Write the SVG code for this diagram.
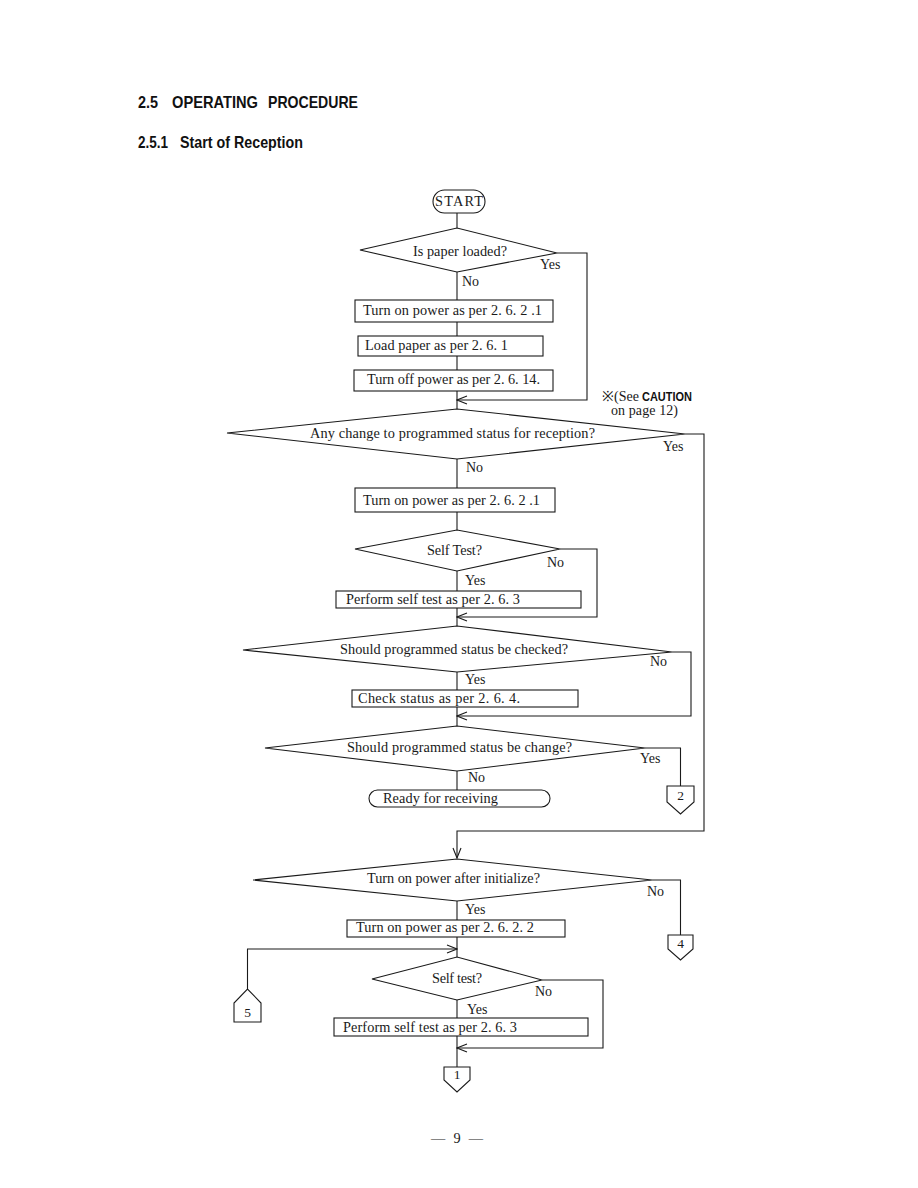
<svg xmlns="http://www.w3.org/2000/svg" width="918" height="1188" viewBox="0 0 918 1188">
<style>
.ln{fill:none;stroke:#1a1a1a;stroke-width:1.1}
.sh{fill:#fff;stroke:#1a1a1a;stroke-width:1.1}
.t{font-family:"Liberation Serif","Times New Roman",serif;font-size:14.3px;fill:#1a1a1a}
.s{font-family:"Liberation Serif","Times New Roman",serif;font-size:14px;fill:#1a1a1a}
.c{font-family:"Liberation Serif","Times New Roman",serif;font-size:13.5px;fill:#1a1a1a;text-anchor:middle}
.h{font-family:"Liberation Sans",Arial,sans-serif;font-weight:bold;font-size:16.5px;fill:#111}
.cb{font-family:"Liberation Sans",Arial,sans-serif;font-weight:bold;font-size:12px;fill:#111}
</style>
<defs>
<marker id="ah" viewBox="-11 -5 12 10" refX="0" refY="0" markerWidth="12" markerHeight="10" markerUnits="userSpaceOnUse" orient="auto">
<path d="M-10,-4 L0,0 L-10,4" fill="none" stroke="#1a1a1a" stroke-width="1.1"/>
</marker>
</defs>
<rect width="918" height="1188" fill="#fff"/>

<g id="headings">
<text class="h" x="138" y="108" textLength="20" lengthAdjust="spacingAndGlyphs">2.5</text>
<text class="h" x="172" y="108" textLength="86" lengthAdjust="spacingAndGlyphs">OPERATING</text>
<text class="h" x="268" y="108" textLength="90" lengthAdjust="spacingAndGlyphs">PROCEDURE</text>
<text class="h" x="138" y="148" textLength="30" lengthAdjust="spacingAndGlyphs">2.5.1</text>
<text class="h" x="180" y="148" textLength="123" lengthAdjust="spacingAndGlyphs">Start of Reception</text>
</g>

<g id="connectors">
<path class="ln" d="M457,213 V228"/>
<path class="ln" d="M457,272 V300"/>
<path class="ln" d="M457,322 V336"/>
<path class="ln" d="M457,356 V370"/>
<path class="ln" d="M457,391 V409"/>
<path class="ln" d="M557,253 H587 V400 H457" marker-end="url(#ah)"/>
<path class="ln" d="M457,459 V488"/>
<path class="ln" d="M457,512 V530"/>
<path class="ln" d="M457,571 V591"/>
<path class="ln" d="M457,608 V626"/>
<path class="ln" d="M560,549 H597 V617 H457" marker-end="url(#ah)"/>
<path class="ln" d="M457,672 V690"/>
<path class="ln" d="M457,707 V726"/>
<path class="ln" d="M672,652 H691 V716 H457" marker-end="url(#ah)"/>
<path class="ln" d="M457,771 V790"/>
<path class="ln" d="M645,748 H680.5 V786"/>
<path class="ln" d="M685,434 H704 V831 H457 V858" marker-end="url(#ah)"/>
<path class="ln" d="M457,901 V920"/>
<path class="ln" d="M457,937 V957"/>
<path class="ln" d="M652,880 H680.5 V935"/>
<path class="ln" d="M247.5,989 V949 H457" marker-end="url(#ah)"/>
<path class="ln" d="M457,1000 V1018"/>
<path class="ln" d="M457,1036 V1067"/>
<path class="ln" d="M542,980 H603 V1048 H457" marker-end="url(#ah)"/>
</g>

<g id="start">
<rect class="sh" x="433" y="190" width="52" height="23" rx="11.5"/>
<text class="t" x="459" y="206" text-anchor="middle" textLength="48" lengthAdjust="spacing">START</text>
</g>

<g id="d-paper">
<polygon class="sh" points="360,250 457,228 557,253 457,272"/>
<text class="t" x="413" y="256" textLength="94" lengthAdjust="spacing">Is paper loaded?</text>
<text class="s" x="540" y="269">Yes</text>
<text class="s" x="462" y="286">No</text>
</g>

<g id="b-power1">
<rect class="sh" x="355" y="300" width="198" height="22"/>
<text class="t" x="363" y="315" textLength="179" lengthAdjust="spacing">Turn on power as per 2. 6. 2 .1</text>
</g>

<g id="b-load">
<rect class="sh" x="358" y="336" width="185" height="20"/>
<text class="t" x="365" y="350" textLength="143" lengthAdjust="spacing">Load paper as per 2. 6. 1</text>
</g>

<g id="b-off">
<rect class="sh" x="354" y="370" width="199" height="21"/>
<text class="t" x="367" y="384" textLength="173" lengthAdjust="spacing">Turn off power as per 2. 6. 14.</text>
</g>

<g id="note">
<text class="s" x="602" y="401" font-size="13.5">※(See</text>
<text class="cb" x="642" y="401" textLength="50" lengthAdjust="spacingAndGlyphs">CAUTION</text>
<text class="s" x="611" y="415" font-size="13.5" textLength="67" lengthAdjust="spacing">on page 12)</text>
</g>

<g id="d-change">
<polygon class="sh" points="227,433 457,409 685,434 457,459"/>
<text class="t" x="310" y="438" textLength="285" lengthAdjust="spacing">Any change to programmed status for reception?</text>
<text class="s" x="663" y="451">Yes</text>
<text class="s" x="466" y="472">No</text>
</g>

<g id="b-power2">
<rect class="sh" x="355" y="488" width="200" height="24"/>
<text class="t" x="363" y="505" textLength="177" lengthAdjust="spacing">Turn on power as per 2. 6. 2 .1</text>
</g>

<g id="d-selftest1">
<polygon class="sh" points="355,549 457,530 560,549 457,571"/>
<text class="t" x="427" y="555" textLength="55" lengthAdjust="spacing">Self Test?</text>
<text class="s" x="547" y="567">No</text>
<text class="s" x="465" y="585">Yes</text>
</g>

<g id="b-selftest1">
<rect class="sh" x="336" y="591" width="245" height="17"/>
<text class="t" x="346" y="604" textLength="174" lengthAdjust="spacing">Perform self test as per 2. 6. 3</text>
</g>

<g id="d-checked">
<polygon class="sh" points="243,650 457,626 672,652 457,672"/>
<text class="t" x="340" y="654" textLength="228" lengthAdjust="spacing">Should programmed status be checked?</text>
<text class="s" x="650" y="666">No</text>
<text class="s" x="465" y="684">Yes</text>
</g>

<g id="b-check">
<rect class="sh" x="352" y="690" width="226" height="17"/>
<text class="t" x="358" y="703" textLength="162" lengthAdjust="spacing">Check status as per 2. 6. 4.</text>
</g>

<g id="d-changed">
<polygon class="sh" points="265,748 457,726 645,748 457,771"/>
<text class="t" x="347" y="752" textLength="225" lengthAdjust="spacing">Should programmed status be change?</text>
<text class="s" x="640" y="763">Yes</text>
<text class="s" x="468" y="782">No</text>
</g>

<g id="ready">
<rect class="sh" x="369" y="790" width="181" height="17" rx="8.5"/>
<text class="t" x="383" y="803" textLength="115" lengthAdjust="spacing">Ready for receiving</text>
</g>

<g id="conn-2">
<path class="sh" d="M667,786 H694 V802 L680.5,814 L667,802 Z"/>
<text class="c" x="680.5" y="800">2</text>
</g>

<g id="d-init">
<polygon class="sh" points="253,880 457,859 652,880 457,901"/>
<text class="t" x="367" y="883" textLength="173" lengthAdjust="spacing">Turn on power after initialize?</text>
<text class="s" x="647" y="896">No</text>
<text class="s" x="465" y="914">Yes</text>
</g>

<g id="b-power3">
<rect class="sh" x="347" y="920" width="218" height="17"/>
<text class="t" x="356" y="932" textLength="178" lengthAdjust="spacing">Turn on power as per 2. 6. 2. 2</text>
</g>

<g id="conn-4">
<path class="sh" d="M668,935 H693 V949 L680.5,960 L668,949 Z"/>
<text class="c" x="680.5" y="948">4</text>
</g>

<g id="conn-5">
<path class="sh" d="M234,1022 V1003 L247.5,989 L261,1003 V1022 Z"/>
<text class="c" x="247.5" y="1017">5</text>
</g>

<g id="d-selftest2">
<polygon class="sh" points="372,979 457,957 542,980 457,1000"/>
<text class="t" x="432" y="983" textLength="50" lengthAdjust="spacing">Self test?</text>
<text class="s" x="535" y="996">No</text>
<text class="s" x="467" y="1014">Yes</text>
</g>

<g id="b-selftest2">
<rect class="sh" x="334" y="1018" width="254" height="18"/>
<text class="t" x="343" y="1032" textLength="174" lengthAdjust="spacing">Perform self test as per 2. 6. 3</text>
</g>

<g id="conn-1">
<path class="sh" d="M444,1067 H470 V1080 L457,1092 L444,1080 Z"/>
<text class="c" x="457" y="1079">1</text>
</g>

<g id="page">
<text class="t" x="431" y="1143" font-size="16" textLength="52" lengthAdjust="spacing">— 9 —</text>
</g>
</svg>
